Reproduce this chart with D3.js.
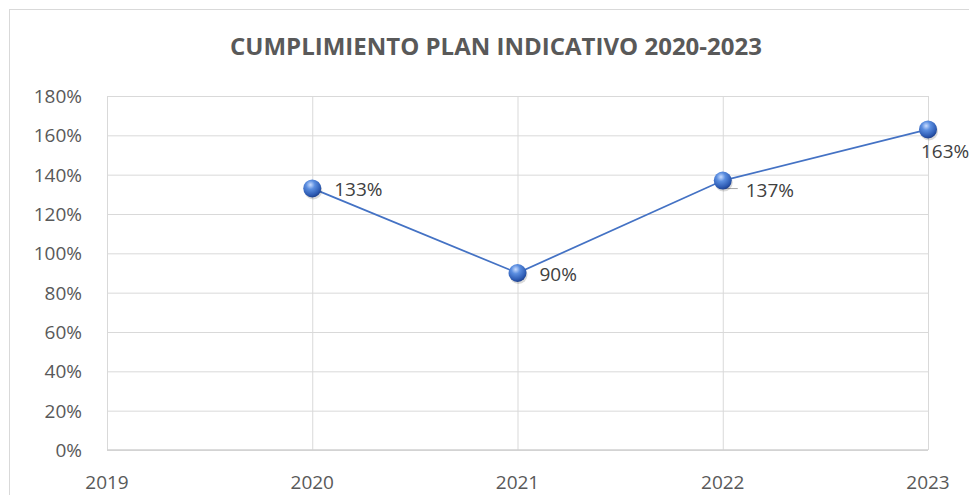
<!DOCTYPE html>
<html>
<head>
<meta charset="utf-8">
<script src="https://cdn.jsdelivr.net/npm/d3@7"></script>
<style>
  body { margin: 0; background: #fff; }
  svg { display: block; font-family: "Open Sans", "Liberation Sans", Arial, sans-serif; }
</style>
</head>
<body>
<div class="chart"></div>
<script>
var width = 969;
var height = 495;
var margin = {top: 96, right: 41, bottom: 45, left: 107};

var years = [2020, 2021, 2022, 2023];
var values = [1.33, 0.90, 1.37, 1.63];
var labels = ['133%', '90%', '137%', '163%'];
var xTicks = [2019, 2020, 2021, 2022, 2023];
var yTicks = [0, 0.2, 0.4, 0.6, 0.8, 1.0, 1.2, 1.4, 1.6, 1.8];

var data = years.map(function(y, i){ return {year: y, value: values[i], label: labels[i]} });

var svg = d3.select('div.chart').append('svg')
    .attr('width', width)
    .attr('height', height)

// chart border
svg.append('rect')
    .attr('x', 9.5).attr('y', 9.5)
    .attr('width', width + 10).attr('height', height + 10)
    .attr('fill', '#fff')
    .attr('stroke', '#d9d9d9')

var x_scale = d3.scaleLinear()
    .domain([2019, 2023])
    .range([margin.left, width - margin.right])
var y_scale = d3.scaleLinear()
    .domain([0, 1.8])
    .range([height - margin.bottom, margin.top])

// gridlines
svg.append('g')
    .attr('class', 'y-grid')
    .attr('transform', 'translate(' + margin.left + ',0)')
    .call(d3.axisLeft(y_scale).tickValues(yTicks).tickSize(-(width - margin.right - margin.left)).tickFormat(''))
    .call(function(g){ g.select('.domain').remove() })
    .selectAll('line').attr('stroke', '#d9d9d9')

svg.append('g')
    .attr('class', 'x-grid')
    .attr('transform', 'translate(0,' + margin.top + ')')
    .call(d3.axisTop(x_scale).tickValues(xTicks).tickSize(-(height - margin.bottom - margin.top)).tickFormat(''))
    .call(function(g){ g.select('.domain').remove() })
    .selectAll('line').attr('stroke', '#d9d9d9')

// x axis line
svg.append('line')
    .attr('x1', margin.left).attr('x2', width - margin.right)
    .attr('y1', y_scale(0)).attr('y2', y_scale(0))
    .attr('stroke', '#d0d0d0').attr('stroke-width', 1.5)

// tick labels
svg.append('g')
    .selectAll('text')
    .data(yTicks)
    .enter()
    .append('text')
    .attr('x', 82)
    .attr('y', function(d){ return y_scale(d) + 7 })
    .attr('text-anchor', 'end')
    .attr('fill', '#595959')
    .style('font-size', '19px')
    .text(function(d){ return Math.round(d * 100) + '%' })

svg.append('g')
    .selectAll('text')
    .data(xTicks)
    .enter()
    .append('text')
    .attr('x', function(d){ return x_scale(d) })
    .attr('y', 489)
    .attr('text-anchor', 'middle')
    .attr('fill', '#595959')
    .style('font-size', '19px')
    .text(function(d){ return d })

// title
svg.append('text')
    .attr('x', 496)
    .attr('y', 55)
    .attr('text-anchor', 'middle')
    .attr('fill', '#595959')
    .style('font-size', '23px')
    .style('font-weight', 'bold')
    .attr('textLength', 532)
    .attr('lengthAdjust', 'spacingAndGlyphs')
    .text('CUMPLIMIENTO PLAN INDICATIVO 2020-2023')

// line
var line = d3.line()
    .x(function(d){ return x_scale(d.year) })
    .y(function(d){ return y_scale(d.value) })

svg.append('path')
    .datum(data)
    .attr('d', line)
    .attr('fill', 'none')
    .attr('stroke', '#4472c4')
    .attr('stroke-width', 1.75)

// leader line for 2022 label
svg.append('polyline')
    .attr('points', [
        [x_scale(2022), y_scale(1.37)],
        [x_scale(2022) + 1, y_scale(1.37) + 8],
        [x_scale(2022) + 15, y_scale(1.37) + 8]
    ].join(' '))
    .attr('fill', 'none')
    .attr('stroke', '#a6a6a6')

// sphere markers
var defs = svg.append('defs')
var grad = defs.append('radialGradient')
    .attr('id', 'sphere')
    .attr('cx', '40%').attr('cy', '30%').attr('r', '70%')
grad.append('stop').attr('offset', '0%').attr('stop-color', '#c9dcff')
grad.append('stop').attr('offset', '35%').attr('stop-color', '#5b8ee0')
grad.append('stop').attr('offset', '80%').attr('stop-color', '#2f5db5')
grad.append('stop').attr('offset', '100%').attr('stop-color', '#1f4290')

svg.selectAll('circle.shadow')
    .data(data)
    .enter()
    .append('circle')
    .attr('class', 'shadow')
    .attr('cx', function(d){ return x_scale(d.year) + 1 })
    .attr('cy', function(d){ return y_scale(d.value) + 2 })
    .attr('r', 9)
    .attr('fill', 'rgba(0,0,0,0.15)')

svg.selectAll('circle.pt')
    .data(data)
    .enter()
    .append('circle')
    .attr('class', 'pt')
    .attr('cx', function(d){ return x_scale(d.year) })
    .attr('cy', function(d){ return y_scale(d.value) })
    .attr('r', 9)
    .attr('fill', 'url(#sphere)')

// data labels
var labelOffset = [[22, 8], [22, 8], [23, 16], [-7, 29]]
svg.append('g')
    .selectAll('text')
    .data(data)
    .enter()
    .append('text')
    .attr('x', function(d, i){ return x_scale(d.year) + labelOffset[i][0] })
    .attr('y', function(d, i){ return y_scale(d.value) + labelOffset[i][1] })
    .attr('fill', '#404040')
    .style('font-size', '19px')
    .text(function(d){ return d.label })
</script>
</body>
</html>
